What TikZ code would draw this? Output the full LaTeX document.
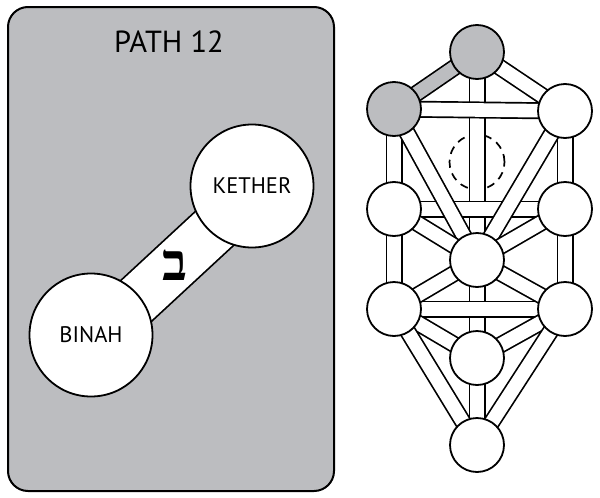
\documentclass[tikz,border=0pt]{standalone}
\usepackage{fontspec}
\setmainfont{PT Sans}
\newfontfamily\hebfont[Script=Hebrew]{Liberation Serif}
\usetikzlibrary{calc}
\definecolor{panelgray}{RGB}{188,189,192}
\pgfdeclarelayer{deep}
\pgfdeclarelayer{bands}
\pgfsetlayers{deep,bands,main}
\tikzset{
  sefira/.style={circle,draw,line width=1.8pt,fill=white,minimum size=54pt,inner sep=0pt},
  graysefira/.style={sefira,fill=panelgray},
  bigsefira/.style={circle,draw,line width=1.8pt,fill=white,minimum size=123pt,inner sep=0pt,font=\fontsize{22.5}{22.5}\selectfont},
  bandout/.style={line width=17pt,draw=black},
  bandin/.style={line width=13.6pt,draw=#1},
  bandin/.default=white,
}
\newcommand\pband[3][white]{%
  \draw[bandout] (#2.center) -- (#3.center);
  \draw[bandin=#1] (#2.center) -- (#3.center);}
\begin{document}
\begin{tikzpicture}[x=1pt,y=-1pt]
\useasboundingbox (0,0) rectangle (600,498);
% left panel
\begin{pgfonlayer}{deep}
\draw[line width=2pt,fill=panelgray,rounded corners=20pt] (8,7) rectangle (334,491);
\end{pgfonlayer}
\node[font=\fontsize{30.5}{30.5}\selectfont] (title) at (169,42) {PATH 12};
\node[bigsefira] (kether) at (252,186) {KETHER};
\node[bigsefira] (binah) at (91,335) {BINAH};
\begin{pgfonlayer}{bands}
\draw[line width=52.5pt] ($(binah.center)+(4,4)$) -- ($(kether.center)+(4,4)$);
\draw[line width=49pt,white] ($(binah.center)+(4,4)$) -- ($(kether.center)+(4,4)$);
\end{pgfonlayer}
\node[font=\hebfont\bfseries\fontsize{52}{52}\selectfont,inner sep=0pt] (bet) at (175,265) {ב};
% tree of life
\node[graysefira] (K) at (477,52) {};
\node[graysefira] (B) at (394,109) {};
\node[sefira] (C) at (565,111) {};
\node[sefira] (G) at (394,209) {};
\node[sefira] (Ch) at (565,209) {};
\node[sefira] (T) at (477,260) {};
\node[sefira] (H) at (394,309) {};
\node[sefira] (N) at (565,309) {};
\node[sefira] (Y) at (477,358) {};
\node[sefira] (M) at (477,445) {};
\begin{pgfonlayer}{deep}
\node[circle,draw,dashed,dash pattern=on 8pt off 6pt,line width=1.7pt,minimum size=55pt,inner sep=0pt] (D) at (477,162) {};
\end{pgfonlayer}
\begin{pgfonlayer}{bands}
\pband[panelgray]{K}{B}
\pband{K}{C}
\pband{K}{T}
\pband{T}{Y}
\pband{Y}{M}
\pband{B}{G}
\pband{G}{H}
\pband{C}{Ch}
\pband{Ch}{N}
\pband{B}{C}
\pband{G}{Ch}
\pband{H}{N}
\pband{B}{T}
\pband{C}{T}
\pband{G}{T}
\pband{Ch}{T}
\pband{H}{T}
\pband{N}{T}
\pband{H}{Y}
\pband{N}{Y}
\pband{H}{M}
\pband{N}{M}
\end{pgfonlayer}
\end{tikzpicture}
\end{document}
